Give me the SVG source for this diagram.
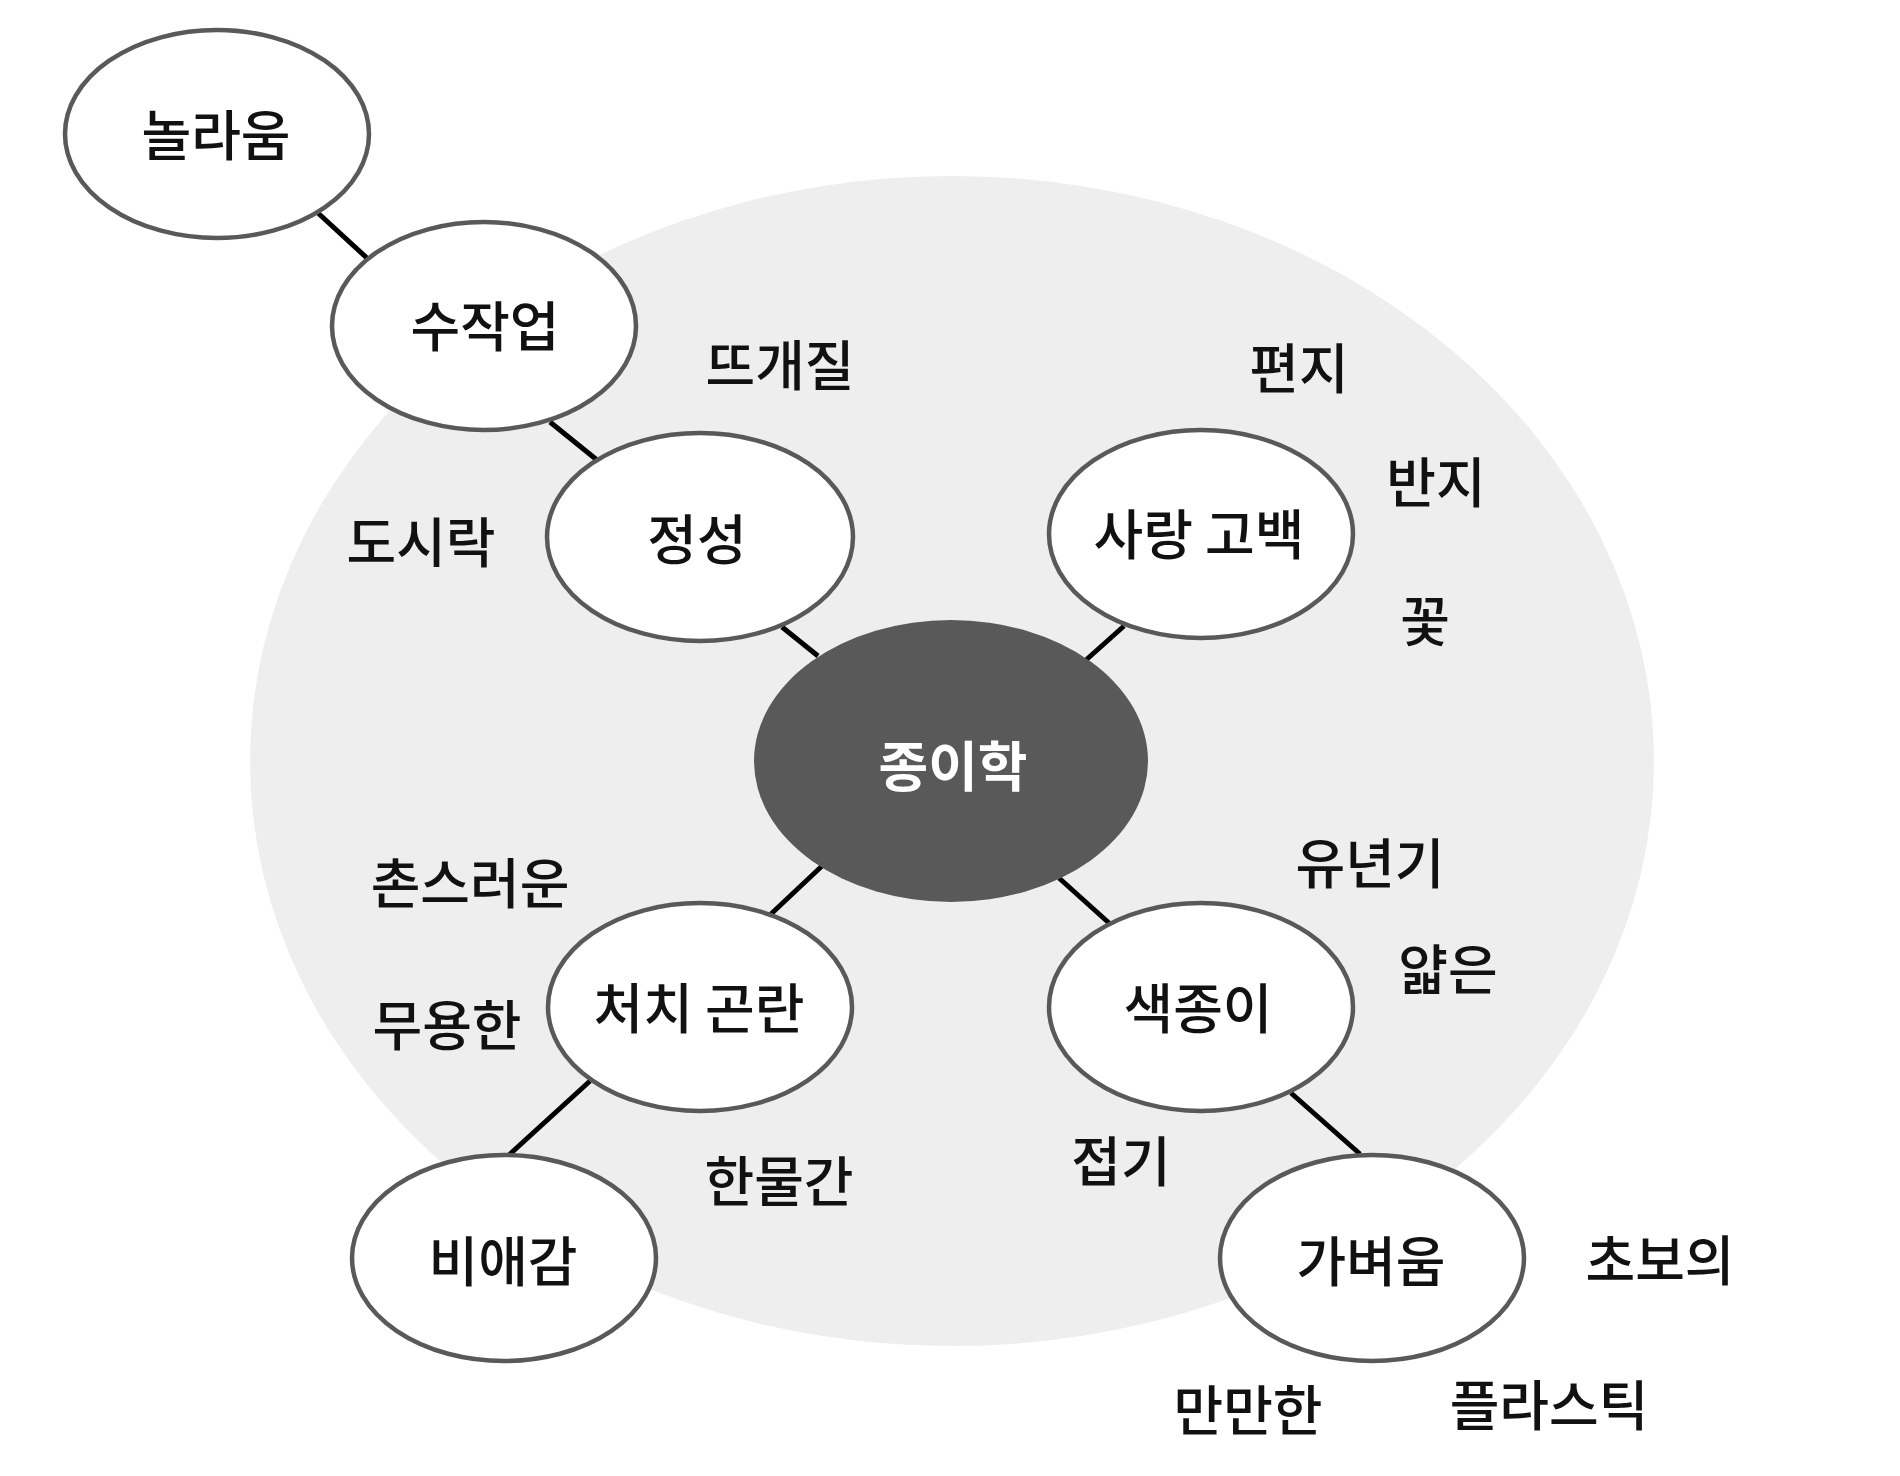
<svg xmlns="http://www.w3.org/2000/svg" width="1900" height="1476" viewBox="0 0 1900 1476">
<style>
.n{fill:#ffffff;stroke:#595959;stroke-width:4.5}
.c{stroke:#000000;stroke-width:5;fill:none}
text{font-family:"Noto Sans CJK KR","Noto Sans",sans-serif;font-size:54px;font-weight:500;fill:#111111;text-anchor:middle;dominant-baseline:central}
.w{fill:#ffffff;font-weight:700}
</style>
<rect width="1900" height="1476" fill="#ffffff"/>
<ellipse id="bg" cx="952" cy="761" rx="702" ry="585" fill="#eeeeee"/>
<g id="connectors">
<line class="c" x1="318" y1="213" x2="368" y2="259"/>
<line class="c" x1="550" y1="422" x2="597" y2="460"/>
<line class="c" x1="782" y1="627" x2="818" y2="656"/>
<line class="c" x1="1124" y1="626" x2="1086" y2="660"/>
<line class="c" x1="822" y1="866" x2="771" y2="914"/>
<line class="c" x1="590" y1="1081" x2="509" y2="1155"/>
<line class="c" x1="1059" y1="878" x2="1109" y2="923"/>
<line class="c" x1="1291" y1="1093" x2="1360" y2="1154"/>
</g>
<g id="node-center"><ellipse cx="951" cy="761" rx="197" ry="141" fill="#595959"/><text class="w" x="953" y="763">종이학</text></g>
<g id="node-surprise"><ellipse class="n" cx="217" cy="134" rx="152" ry="104"/><text x="216" y="132">놀라움</text></g>
<g id="node-handwork"><ellipse class="n" cx="484" cy="326" rx="152" ry="104"/><text x="485" y="323">수작업</text></g>
<g id="node-sincerity"><ellipse class="n" cx="700" cy="537" rx="153" ry="104"/><text x="697" y="536">정성</text></g>
<g id="node-confession"><ellipse class="n" cx="1201" cy="534" rx="152" ry="104"/><text x="1199" y="531">사랑 고백</text></g>
<g id="node-trouble"><ellipse class="n" cx="700" cy="1007" rx="152" ry="104"/><text x="699" y="1005">처치 곤란</text></g>
<g id="node-sorrow"><ellipse class="n" cx="504" cy="1258" rx="152" ry="103"/><text x="503" y="1258">비애감</text></g>
<g id="node-colorpaper"><ellipse class="n" cx="1201" cy="1007" rx="152" ry="104"/><text x="1198" y="1005">색종이</text></g>
<g id="node-lightness"><ellipse class="n" cx="1372" cy="1258" rx="152" ry="103"/><text x="1371" y="1258">가벼움</text></g>
<g id="labels">
<text x="780" y="362">뜨개질</text>
<text x="421" y="539">도시락</text>
<text x="1299" y="365">편지</text>
<text x="1436" y="479">반지</text>
<text x="1425" y="618">꽃</text>
<text x="470" y="880">촌스러운</text>
<text x="447" y="1022">무용한</text>
<text x="779" y="1178">한물간</text>
<text x="1370" y="860">유년기</text>
<text x="1448" y="966">얇은</text>
<text x="1121" y="1158">접기</text>
<text x="1660" y="1257">초보의</text>
<text x="1248" y="1407">만만한</text>
<text x="1549" y="1402">플라스틱</text>
</g>
</svg>
